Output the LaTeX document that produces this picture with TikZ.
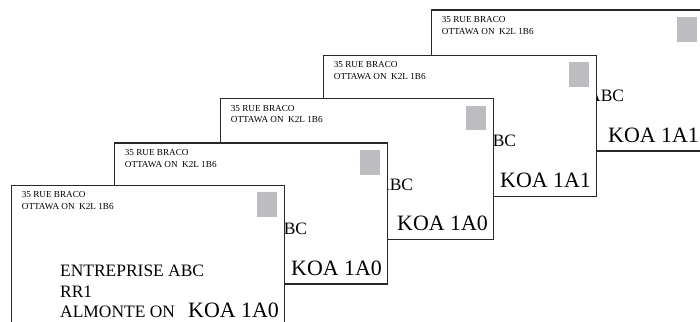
\documentclass[tikz,border=0pt]{standalone}
\usepackage{fontspec}
\setmainfont{Liberation Serif}
\definecolor{stampgray}{RGB}{188,189,192}
\definecolor{edge}{RGB}{40,40,40}
\tikzset{
  envbox/.style={draw=edge, line width=1.3bp, fill=white, inner sep=0,
    anchor=north west, minimum width=273bp, minimum height=141bp},
  stampbox/.style={fill=stampgray, draw=none, inner sep=0,
    minimum width=19.5bp, minimum height=24.4bp},
  smalltxt/.style={anchor=base west, inner sep=0, font=\fontsize{9.2}{11}\selectfont},
  bigtxt/.style={anchor=base west, inner sep=0, font=\fontsize{17.5}{20}\selectfont},
  ziptxt/.style={anchor=base west, inner sep=0, font=\fontsize{22}{24}\selectfont},
}
\begin{document}
\begin{tikzpicture}[x=1bp,y=-1bp]
\useasboundingbox (0,0) rectangle (700,321);
\clip (0,0) rectangle (700,321);
\foreach \i/\x/\y/\z in {5/431/9.3/1A1, 4/323/54.5/1A1, 3/220/98/1A0, 2/114/142.3/1A0, 1/11/184.5/1A0}{
  \begin{scope}[shift={(\x,\y)}]
    \node[envbox] (env\i) at (0,0) {};
    \node[stampbox] (stamp\i) at (256,20) {};
    \node[smalltxt] (street\i) at (10.7,13.2) {35 RUE BRACO};
    \node[smalltxt] (city\i) at (10.7,24.8) {OTTAWA ON~~K2L 1B6};
    \node[bigtxt] (name\i) at (49,92.2) {ENTREPRISE ABC};
    \node[bigtxt] (rr\i) at (49,112.5) {RR1};
    \node[bigtxt] (town\i) at (49,132.8) {ALMONTE ON};
    \node[ziptxt] (zip\i) at (177,132.8) {KOA \z};
  \end{scope}
}
\end{tikzpicture}
\end{document}
